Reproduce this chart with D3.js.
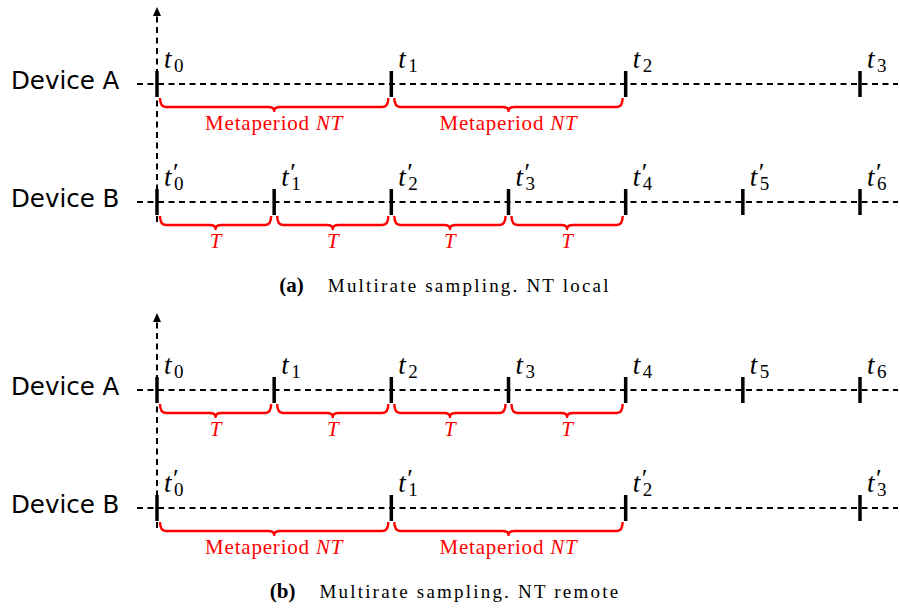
<!DOCTYPE html>
<html lang="en">
<head>
<meta charset="UTF-8">
<title>Multirate sampling</title>
<script src="https://d3js.org/d3.v7.min.js"></script>
<style>
  body { margin: 0; background: #fff; }
  svg { display: block; }
</style>
</head>
<body>
<script>
// time axis in units of T (N = 2, so NT = 2 units)
const fastTicks = [0, 1, 2, 3, 4, 5, 6];
const slowTicks = [0, 2, 4, 6];
const fastBraces = [[0, 1], [1, 2], [2, 3], [3, 4]];
const slowBraces = [[0, 2], [2, 4]];
const fastBraceLabel = "T";
const slowBraceLabel = ["Metaperiod ", "NT"];
const deviceNames = ["Device A", "Device B"];
const captionTags = ["(a)", "(b)"];
const captionTexts = ["Multirate sampling. NT local", "Multirate sampling. NT remote"];
// which rate each device uses in each panel
const panelRates = [["slow", "fast"], ["fast", "slow"]];

const width = 900, height = 608;
const panelOffset = 306;
const rowY = [84, 202];

const x = d3.scaleLinear().domain([0, 6]).range([157, 860]);

const svg = d3.select("body").append("svg")
  .attr("width", width).attr("height", height);

const red = "#ff0000";
const mathFont = "Liberation Serif";

function brace(g, x0, x1, y) {
  const a = x0 + 3, b = x1 - 3, m = (a + b) / 2, r = 6;
  const y0 = y + 14, y1 = y + 23, y2 = y + 27;
  const p = d3.path();
  p.moveTo(a, y0);
  p.quadraticCurveTo(a, y1, a + r, y1);
  p.lineTo(m - r, y1);
  p.quadraticCurveTo(m, y1, m, y2);
  p.quadraticCurveTo(m, y1, m + r, y1);
  p.lineTo(b - r, y1);
  p.quadraticCurveTo(b, y1, b, y0);
  g.append("path").attr("d", p.toString())
    .attr("fill", "none").attr("stroke", red)
    .attr("stroke-width", 2.4).attr("stroke-linejoin", "round");
}

function tickLabel(g, xv, y, i, primed) {
  const lx = xv + 7, ly = y - 16;
  const t = g.append("text").attr("x", lx).attr("y", ly)
    .attr("font-family", mathFont);
  t.append("tspan").attr("font-style", "italic").attr("font-size", 27).text("t");
  if (primed) {
    t.append("tspan").attr("x", lx + 9).attr("y", ly - 5)
      .attr("font-size", 26).text("\u2032");
  }
  t.append("tspan").attr("x", lx + 10).attr("y", ly + 4)
    .attr("font-size", 19).text(i);
}

panelRates.forEach((rates, p) => {
  const g = svg.append("g").attr("transform", `translate(0,${p * panelOffset})`);

  // vertical time axis with arrow
  g.append("line")
    .attr("x1", x(0)).attr("x2", x(0))
    .attr("y1", rowY[1] + 20).attr("y2", 14)
    .attr("stroke", "#000").attr("stroke-width", 2)
    .attr("stroke-dasharray", "6,4.5");
  g.append("path")
    .attr("d", d3.line()([[x(0) - 4, 16], [x(0), 7], [x(0) + 4, 16]]) + "Z")
    .attr("fill", "#000");

  rates.forEach((rate, r) => {
    const y = rowY[r];
    const primed = r === 1;
    const ticks = rate === "fast" ? fastTicks : slowTicks;
    const braces = rate === "fast" ? fastBraces : slowBraces;

    g.append("text").attr("x", 11).attr("y", y + 5)
      .attr("font-family", "DejaVu Sans").attr("font-size", 24.5)
      .text(deviceNames[r]);

    g.append("line")
      .attr("x1", 137).attr("x2", 898).attr("y1", y).attr("y2", y)
      .attr("stroke", "#000").attr("stroke-width", 2)
      .attr("stroke-dasharray", "6,4.5");

    ticks.forEach((t, i) => {
      g.append("line")
        .attr("x1", x(t)).attr("x2", x(t))
        .attr("y1", y - 13).attr("y2", y + 13)
        .attr("stroke", "#000").attr("stroke-width", 3.5);
      tickLabel(g, x(t), y, i, primed);
    });

    braces.forEach(([s, e]) => {
      brace(g, x(s), x(e), y);
      const lbl = g.append("text")
        .attr("x", (x(s) + x(e)) / 2).attr("y", y + 46)
        .attr("text-anchor", "middle").attr("fill", red)
        .attr("font-family", mathFont).attr("font-size", 21);
      if (rate === "fast") {
        lbl.attr("font-style", "italic").text(fastBraceLabel);
      } else {
        lbl.attr("letter-spacing", 0.8);
        lbl.append("tspan").text(slowBraceLabel[0]);
        lbl.append("tspan").attr("font-style", "italic").text(slowBraceLabel[1]);
      }
    });
  });

  // caption
  const cap = g.append("g");
  const tag = cap.append("text").attr("x", 0).attr("y", 292)
    .attr("font-family", mathFont).attr("font-weight", "bold")
    .attr("font-size", 21).text(captionTags[p]);
  const tw = tag.node().getComputedTextLength();
  const body = cap.append("text").attr("x", tw + 24).attr("y", 292)
    .attr("font-family", mathFont).attr("font-size", 19)
    .attr("letter-spacing", 2.2).text(captionTexts[p]);
  const total = tw + 24 + body.node().getComputedTextLength();
  cap.attr("transform", `translate(${445 - total / 2},0)`);
});
</script>
</body>
</html>
